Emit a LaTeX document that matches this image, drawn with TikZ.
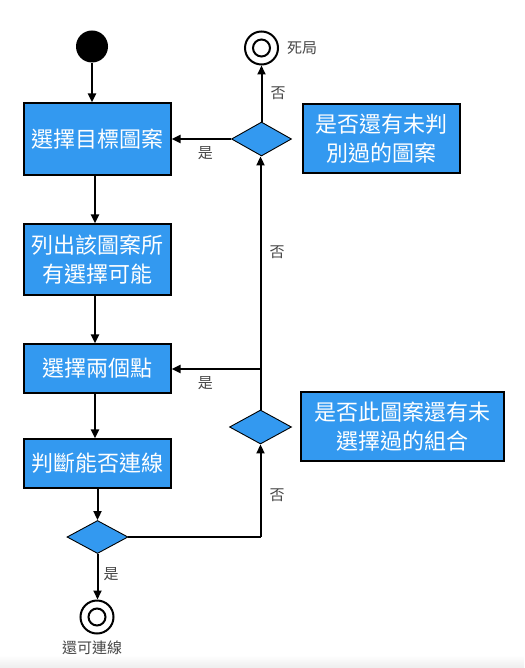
\documentclass[tikz,border=0pt]{standalone}
\usepackage{fontspec}
\setmainfont{Noto Sans CJK TC}
\usetikzlibrary{shapes.geometric,arrows.meta}
\definecolor{boxblue}{RGB}{51,153,240}
\definecolor{lblgray}{RGB}{70,70,70}
\tikzset{
  arr/.style={line width=2pt,-{Triangle[length=9pt,width=8pt]}},
  ln/.style={line width=2pt},
  bluebox/.style={rectangle,draw=black,line width=1.2pt,fill=boxblue,text=white,
    font=\fontsize{22}{28.5}\selectfont,align=center,inner sep=0pt},
  dec/.style={diamond,draw=black,line width=0.9pt,fill=boxblue,inner sep=0pt},
  lbl/.style={text=lblgray,font=\fontsize{15}{18}\selectfont,inner sep=0pt},
  endpt/.style={circle,draw=black,line width=2pt,minimum size=33pt,inner sep=0pt,
    path picture={\draw[line width=2pt] (path picture bounding box.center) circle (8.5pt);}}
}
\begin{document}
\begin{tikzpicture}[x=1pt,y=-1pt]
\useasboundingbox (0,0) rectangle (524,668);
\shade[top color=white,bottom color=black!7] (0,655) rectangle (524,668);
% nodes
\node[circle,fill=black,minimum size=32pt,inner sep=0pt] (start) at (92,46.5) {};
\node[bluebox,minimum width=147pt,minimum height=72pt] (b1) at (97.5,139) {選擇目標圖案};
\node[bluebox,minimum width=147pt,minimum height=71pt] (b2) at (97.5,259.5) {列出該圖案所\\有選擇可能};
\node[bluebox,minimum width=147pt,minimum height=49pt] (b3) at (97.5,368.5) {選擇兩個點};
\node[bluebox,minimum width=147pt,minimum height=49pt] (b4) at (97.5,463.5) {判斷能否連線};
\node[dec,minimum width=61pt,minimum height=33pt] (d3) at (97.5,537) {};
\node[endpt] (fin) at (97,617) {};
\node[lbl] (finl) at (92,648) {還可連線};
\node[dec,minimum width=60pt,minimum height=34pt] (d1) at (261.5,139) {};
\node[endpt] (dead) at (261.5,48) {};
\node[lbl,anchor=west] (deadl) at (287,48) {死局};
\node[bluebox,minimum width=157pt,minimum height=69pt] (n1) at (381.5,138.5) {是否還有未判\\別過的圖案};
\node[dec,minimum width=62pt,minimum height=34pt] (d2) at (260.5,427) {};
\node[bluebox,minimum width=203pt,minimum height=69pt] (n2) at (402.5,426.5) {是否此圖案還有未\\選擇過的組合};
\coordinate (j) at (260.5,369);
\coordinate (c) at (260.5,537);
% connectors
\draw[arr] (start.south) -- (start.south |- b1.north);
\draw[arr] ([xshift=-2.5pt]b1.south) -- ([xshift=-2.5pt]b2.north);
\draw[arr] ([xshift=-2.5pt]b2.south) -- ([xshift=-2.5pt]b3.north);
\draw[arr] ([xshift=-2.5pt]b3.south) -- ([xshift=-2.5pt]b4.north);
\draw[arr] (b4.south) -- (d3.north);
\draw[arr] (d3.south) -- (d3.south |- fin.north) node[lbl,pos=0.45,right=5pt] (l6) {是};
\draw[ln] (d3.east) -- (c);
\draw[arr] (c) -- (d2.south) node[lbl,pos=0.45,right=8pt] (l5) {否};
\draw[arr] (d2.north) -- (d2.north |- d1.south) node[lbl,pos=0.62,right=8pt] (l3) {否};
\draw[arr] (j) -- (b3.east |- j) node[lbl,pos=0.62,below=7pt] (l4) {是};
\draw[arr] (d1.west) -- (b1.east) node[lbl,pos=0.43,below=7pt] (l2) {是};
\draw[arr] (d1.north) -- (dead.south) node[lbl,pos=0.5,right=8pt] (l1) {否};
\end{tikzpicture}
\end{document}
